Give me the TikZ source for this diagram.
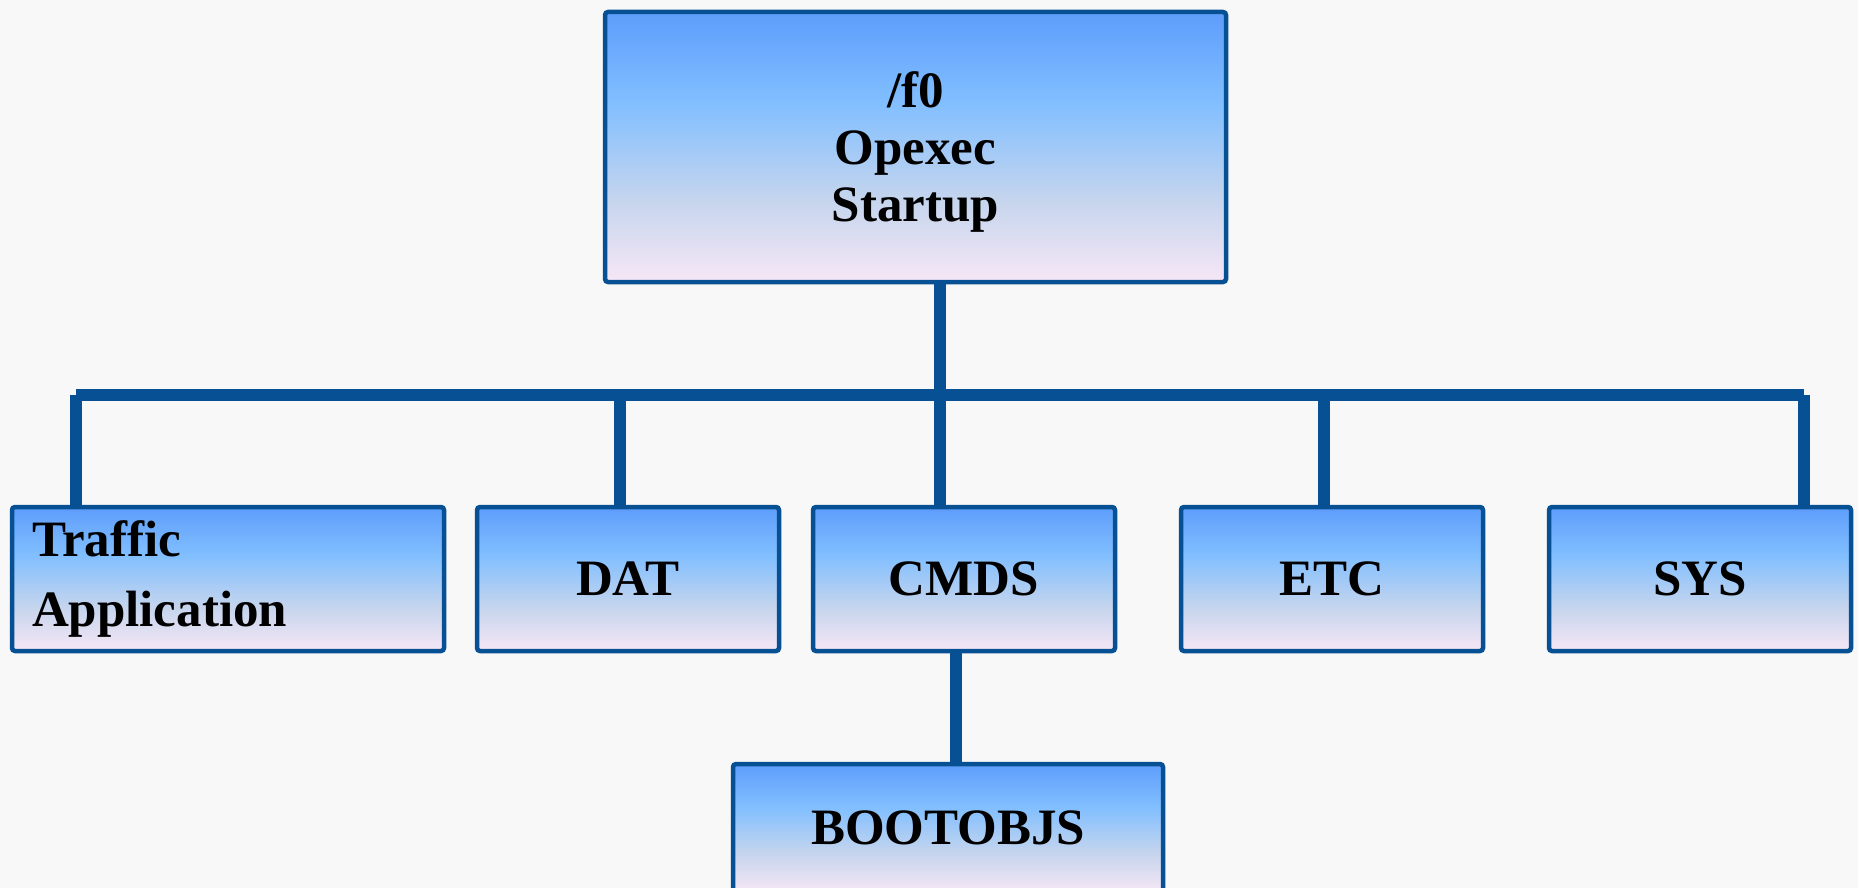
\documentclass[tikz,border=0pt]{standalone}
\usepackage{fontspec}
\setmainfont{Liberation Serif}

\definecolor{edgeblue}{RGB}{8,80,148}
\definecolor{bxtop}{RGB}{93,157,251}
\definecolor{bxmid}{RGB}{130,191,255}
\definecolor{bxlow}{RGB}{198,213,237}
\definecolor{bxbot}{RGB}{246,231,246}
\definecolor{paperbg}{RGB}{248,248,248}

% blue-to-lavender fill of the boxes (25bp = bottom, 75bp = top)
\pgfdeclareverticalshading{boxshade}{100bp}{%
  color(0bp)=(bxbot); color(25bp)=(bxbot); color(40bp)=(bxlow);
  color(58bp)=(bxmid); color(75bp)=(bxtop); color(100bp)=(bxtop)}

\tikzset{
  box/.style={draw=edgeblue, line width=4.5pt, rounded corners=3pt,
    shading=boxshade, inner sep=0pt, outer sep=0pt, align=center,
    font=\fontsize{51}{57}\selectfont\bfseries},
  small/.style={box, minimum width=302pt, minimum height=144pt},
  link/.style={draw=edgeblue, line width=12pt, line cap=butt}
}

\begin{document}
\begin{tikzpicture}[x=1pt,y=-1pt]
  \fill[paperbg] (0,0) rectangle (1858,888);
  \clip (0,0) rectangle (1858,888);

  % root of the tree
  \node[box, minimum width=621pt, minimum height=270pt, text depth=0pt]
    (root) at (915.5,147) {/f0\\Opexec\\Startup};

  % second level
  \node[box, align=left, text width=392pt, inner xsep=20pt, minimum height=144pt,
        font=\fontsize{51}{70}\selectfont\bfseries]
    (traffic) at (228,579) {Traffic\\Application};
  \node[small] (dat)  at (628,579)  {DAT};
  \node[small] (cmds) at (964,579)  {CMDS};
  \node[small] (etc)  at (1332,579) {ETC};
  \node[small] (sys)  at (1700,579) {SYS};

  % third level
  \node[box, minimum width=430pt, minimum height=128pt] (boot) at (948,828)
    {BOOTOBJS};

  % bus junctions
  \coordinate (jt) at (76,395);
  \coordinate (jd) at (620,395);
  \coordinate (jc) at (940,395);
  \coordinate (je) at (1324,395);
  \coordinate (js) at (1804,395);

  % connectors
  \draw[link] (jt) -- (js);
  \draw[link] (root.south -| jc) -- (jc |- cmds.north);
  \draw[link] (jt) -- (jt |- traffic.north);
  \draw[link] (jd) -- (jd |- dat.north);
  \draw[link] (je) -- (je |- etc.north);
  \draw[link] (js) -- (js |- sys.north);
  \draw[link] ([xshift=-8pt]cmds.south) -- ([xshift=-8pt]cmds.south |- boot.north);
\end{tikzpicture}
\end{document}
